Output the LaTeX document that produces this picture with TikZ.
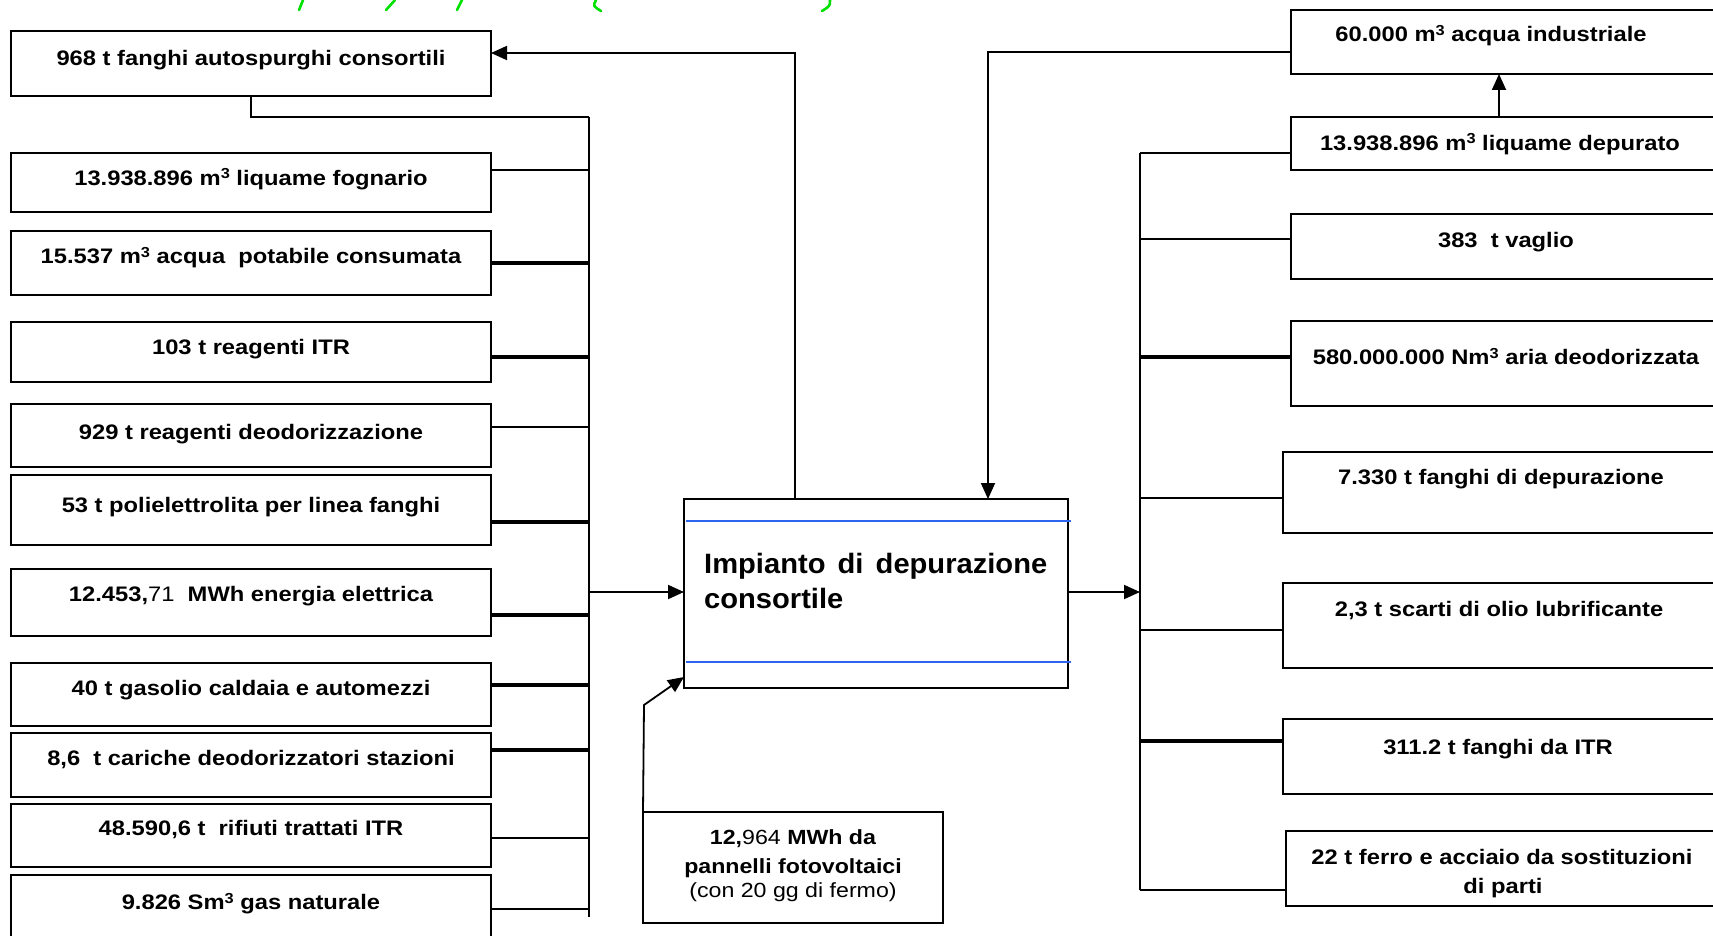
\documentclass[tikz,border=0pt]{standalone}
\usepackage{fontspec}
\setmainfont{Liberation Sans}
\newfontfamily\wfont{Liberation Sans}[FakeStretch=1.13]
\newfontfamily\cfont{Liberation Sans}[FakeStretch=1.04]
\usetikzlibrary{arrows.meta}
\definecolor{lineblue}{RGB}{45,100,240}
\definecolor{titlegreen}{RGB}{0,225,0}
\newcommand\cubed{\raisebox{6.5pt}{\fontsize{14.5}{14.5}\selectfont 3}}
\begin{document}
\begin{tikzpicture}[x=1pt,y=-1pt,
  box/.style={draw, line width=1.8pt, inner sep=0pt, outer sep=0pt, anchor=north west},
  lbl/.style={anchor=base, inner sep=0pt, font=\wfont\fontsize{21}{25}\selectfont\bfseries},
  pvl/.style={anchor=base, inner sep=0pt, font=\wfont\fontsize{20.5}{25}\selectfont\bfseries},
  ctxt/.style={anchor=base west, inner sep=0pt, font=\cfont\fontsize{28}{34}\selectfont\bfseries},
  conn/.style={line width=1.8pt},
  thick conn/.style={line width=3.2pt},
  bus/.style={line width=2pt},
  arr/.style={line width=1.8pt, -{Triangle[length=16pt,width=14pt]}},
  frag/.style={titlegreen, line width=2.6pt, line cap=round}
]
\useasboundingbox (0,0) rectangle (1713,936);
\fill[white] (0,0) rectangle (1713,936);

% green title fragments (cut off at the top edge)
\draw[frag] (303,0) -- (299,10);
\draw[frag] (395,0) -- (386,10);
\draw[frag] (462,0) -- (457,10);
\draw[frag] (596,0) .. controls (593,6) .. (601,11);
\draw[frag] (830,0) .. controls (830,6) .. (822,11);

% ---------- left boxes ----------
\node[box,minimum width=480pt,minimum height=65pt] (L1) at (11,31) {};
\node[lbl] (T1) at (251,65.5) {968 t fanghi autospurghi consortili};
\node[box,minimum width=480pt,minimum height=59pt] (L2) at (11,153) {};
\node[lbl] (T2) at (251,185.5) {13.938.896 m\cubed\ liquame fognario};
\node[box,minimum width=480pt,minimum height=64pt] (L3) at (11,231) {};
\node[lbl] (T3) at (251,263.5) {15.537 m\cubed\ acqua\ \ potabile consumata};
\node[box,minimum width=480pt,minimum height=60pt] (L4) at (11,322) {};
\node[lbl] (T4) at (251,354.5) {103 t reagenti ITR};
\node[box,minimum width=480pt,minimum height=63pt] (L5) at (11,404) {};
\node[lbl] (T5) at (251,439.5) {929 t reagenti deodorizzazione};
\node[box,minimum width=480pt,minimum height=70pt] (L6) at (11,475) {};
\node[lbl] (T6) at (251,512.5) {53 t polielettrolita per linea fanghi};
\node[box,minimum width=480pt,minimum height=67pt] (L7) at (11,569) {};
\node[lbl] (T7) at (251,601.5) {12.453,{\mdseries 71}\ \ MWh energia elettrica};
\node[box,minimum width=480pt,minimum height=63pt] (L8) at (11,663) {};
\node[lbl] (T8) at (251,695.5) {40 t gasolio caldaia e automezzi};
\node[box,minimum width=480pt,minimum height=64pt] (L9) at (11,733) {};
\node[lbl] (T9) at (251,765.5) {8,6\ \ t cariche deodorizzatori stazioni};
\node[box,minimum width=480pt,minimum height=63pt] (L10) at (11,804) {};
\node[lbl] (T10) at (251,835.5) {48.590,6 t\ \ rifiuti trattati ITR};
\node[box,minimum width=480pt,minimum height=65pt] (L11) at (11,875) {};
\node[lbl] (T11) at (251,909.5) {9.826 Sm\cubed\ gas naturale};

% ---------- central box ----------
\node[box,minimum width=384pt,minimum height=189pt] (C) at (684,499) {};
\draw[lineblue, line width=1.8pt] (686,521) -- (1071,521);
\draw[lineblue, line width=1.8pt] (686,662) -- (1071,662);
\node[ctxt] (C1) at (704,573) {\makebox[343pt][s]{Impianto di depurazione}};
\node[ctxt] (C2) at (704,608) {consortile};

% ---------- photovoltaic box ----------
\node[box,minimum width=300pt,minimum height=111pt] (PV) at (643,812) {};
\node[pvl] (P1) at (793,844) {12,{\mdseries 964} MWh da};
\node[pvl] (P2) at (793,873) {pannelli fotovoltaici};
\node[pvl] (P3) at (793,897) {\mdseries (con 20 gg di fermo)};

% ---------- right boxes ----------
\node[box,minimum width=425pt,minimum height=64pt] (R1) at (1291,10) {};
\node[lbl] (S1) at (1491,42) {60.000 m\cubed\ acqua industriale};
\node[box,minimum width=425pt,minimum height=53pt] (R2) at (1291,117) {};
\node[lbl] (S2) at (1500,150.5) {13.938.896 m\cubed\ liquame depurato};
\node[box,minimum width=425pt,minimum height=65pt] (R3) at (1291,214) {};
\node[lbl] (S3) at (1506,247.5) {383\ \ t vaglio};
\node[box,minimum width=425pt,minimum height=85pt] (R4) at (1291,321) {};
\node[lbl] (S4) at (1506,364.5) {580.000.000 Nm\cubed\ aria deodorizzata};
\node[box,minimum width=433pt,minimum height=81pt] (R5) at (1283,452) {};
\node[lbl] (S5) at (1501,484.5) {7.330 t fanghi di depurazione};
\node[box,minimum width=433pt,minimum height=85pt] (R6) at (1283,583) {};
\node[lbl] (S6) at (1499,616.5) {2,3 t scarti di olio lubrificante};
\node[box,minimum width=433pt,minimum height=75pt] (R7) at (1283,719) {};
\node[lbl] (S7) at (1498,754.5) {311.2 t fanghi da ITR};
\node[box,minimum width=430pt,minimum height=75pt] (R8) at (1286,831) {};
\node[lbl] (S8) at (1502,864.5) {22 t ferro e acciaio da sostituzioni};
\node[lbl] (S8b) at (1503,893.5) {di parti};

% ---------- buses ----------
\coordinate (LB1) at (589,117);
\coordinate (LB2) at (589,917);
\coordinate (RB1) at (1140,153);
\coordinate (RB2) at (1140,890);
\draw[bus] (LB1) -- (LB2);
\draw[bus] (RB1) -- (RB2);

% left connectors
\draw[conn] (L1.south) |- (LB1);
\draw[conn] (L2.east |- 0,170) -- (LB1 |- 0,170);
\draw[thick conn] (L3.east |- 0,263) -- (LB1 |- 0,263);
\draw[thick conn] (L4.east |- 0,357) -- (LB1 |- 0,357);
\draw[conn] (L5.east |- 0,427) -- (LB1 |- 0,427);
\draw[thick conn] (L6.east |- 0,522) -- (LB1 |- 0,522);
\draw[thick conn] (L7.east |- 0,615) -- (LB1 |- 0,615);
\draw[thick conn] (L8.east |- 0,685) -- (LB1 |- 0,685);
\draw[thick conn] (L9.east |- 0,750) -- (LB1 |- 0,750);
\draw[conn] (L10.east |- 0,838) -- (LB1 |- 0,838);
\draw[conn] (L11.east |- 0,909) -- (LB1 |- 0,909);

% right connectors
\draw[conn] (RB1) -- (R2.west |- RB1);
\draw[conn] (RB1 |- 0,239) -- (R3.west |- 0,239);
\draw[thick conn] (RB1 |- 0,357) -- (R4.west |- 0,357);
\draw[conn] (RB1 |- 0,498) -- (R5.west |- 0,498);
\draw[conn] (RB1 |- 0,630) -- (R6.west |- 0,630);
\draw[thick conn] (RB1 |- 0,741) -- (R7.west |- 0,741);
\draw[conn] (RB2) -- (R8.west |- RB2);

% arrows
\draw[arr] (LB1 |- 0,592) -- (C.west |- 0,592);
\draw[arr] (C.east |- 0,592) -- (RB1 |- 0,592);
\draw[arr] (C.north -| 795,0) |- (L1.east |- 0,53);
\draw[arr] (R1.west |- 0,52) -| (C.north -| 988,0);
\draw[arr] (R2.north -| 1499,0) -- (R1.south -| 1499,0);
\draw[arr] (PV.north west) -- (644,705) -- ([yshift=11pt]C.south west);
\end{tikzpicture}
\end{document}
